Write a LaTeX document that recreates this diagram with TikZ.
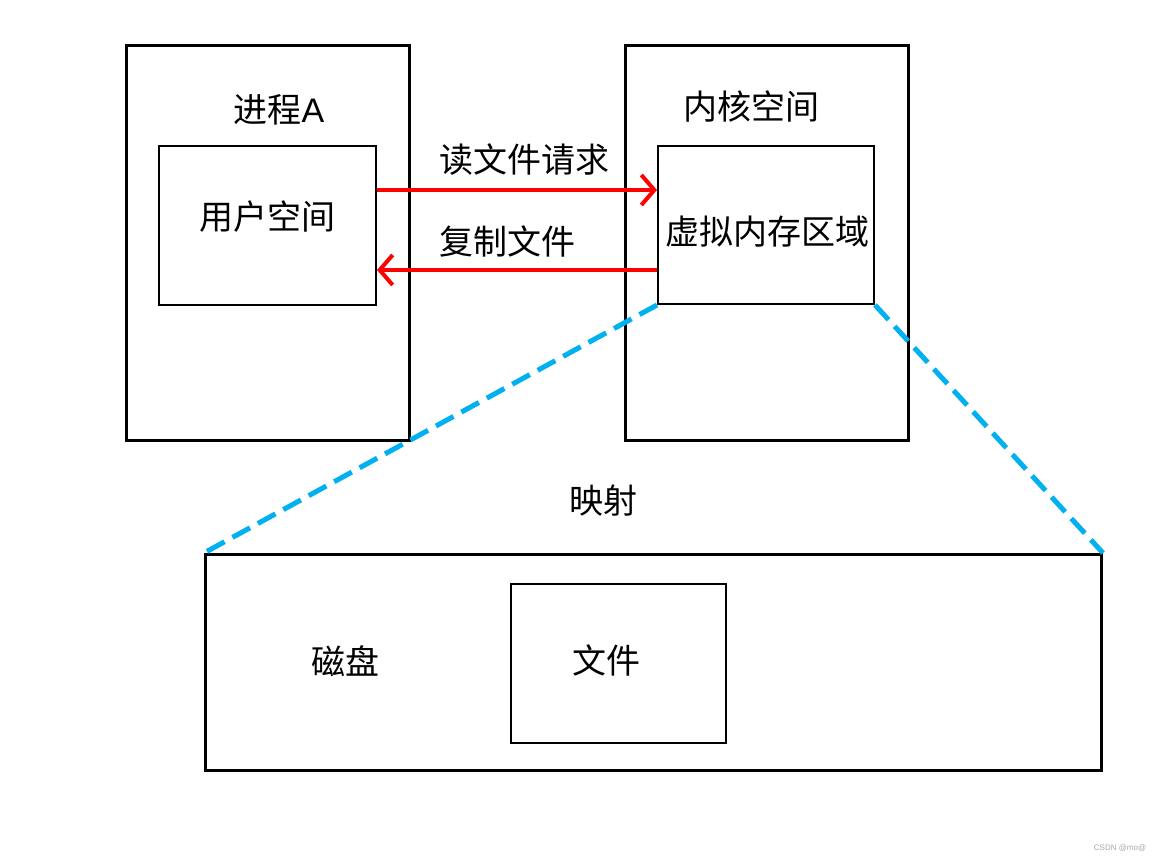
\documentclass[tikz,border=0pt]{standalone}
\usepackage{fontspec}
\setmainfont{Liberation Sans}
\newfontfamily\cjk{Noto Sans CJK SC}
\usetikzlibrary{arrows.meta}
\definecolor{dashblue}{HTML}{00B0F0}
\tikzset{
  outerbox/.style={draw=black, line width=3pt},
  innerbox/.style={draw=black, line width=2pt},
  lbl/.style={font=\cjk\fontsize{34}{38}\selectfont, inner sep=0pt},
  redarrow/.style={draw=red, line width=4pt, -{Straight Barb[length=13pt,width=30pt,line width=4pt]}},
  mapline/.style={draw=dashblue, line width=5pt, dash pattern=on 20pt off 9pt},
}
\begin{document}
\begin{tikzpicture}[x=1pt,y=-1pt]
\useasboundingbox (0,0) rectangle (1162,862);
% boxes
\node[outerbox, minimum width=283pt, minimum height=395pt, anchor=north west] (procA) at (125,44) {};
\node[innerbox, minimum width=217pt, minimum height=159pt, anchor=north west] (user) at (158,145) {};
\node[outerbox, minimum width=283pt, minimum height=395pt, anchor=north west] (kernel) at (624,44) {};
\node[innerbox, minimum width=216pt, minimum height=158pt, anchor=north west] (vma) at (657,145) {};
\node[outerbox, minimum width=896pt, minimum height=216pt, anchor=north west] (disk) at (204,553) {};
\node[innerbox, minimum width=215pt, minimum height=159pt, anchor=north west] (file) at (510,583) {};
% labels
\node[lbl] (tA) at (279,110) {进程\fontspec{Liberation Sans}A};
\node[lbl] (tKernel) at (751,107) {内核空间};
\node[lbl] (tUser) at (267,217) {用户空间};
\node[lbl] (tVma) at (767,232) {虚拟内存区域};
\node[lbl] (tRead) at (524,160) {读文件请求};
\node[lbl] (tCopy) at (507,241) {复制文件};
\node[lbl] (tMap) at (603,501) {映射};
\node[lbl] (tDisk) at (345,661) {磁盘};
\node[lbl] (tFile) at (606,660) {文件};
\node[font=\fontsize{8}{9}\selectfont, text=gray!70, inner sep=0pt] (wm) at (1120,848) {CSDN @mo@};
% arrows
\coordinate (u1) at (user.east |- 0,190);
\coordinate (v1) at (vma.west |- 0,190);
\coordinate (u2) at (user.east |- 0,270);
\coordinate (v2) at (vma.west |- 0,270);
\draw[redarrow] (u1) -- (v1);
\draw[redarrow] (v2) -- (u2);
% mapping lines
\draw[mapline] (vma.south west) -- (disk.north west);
\draw[mapline] (vma.south east) -- (disk.north east);
\end{tikzpicture}
\end{document}
